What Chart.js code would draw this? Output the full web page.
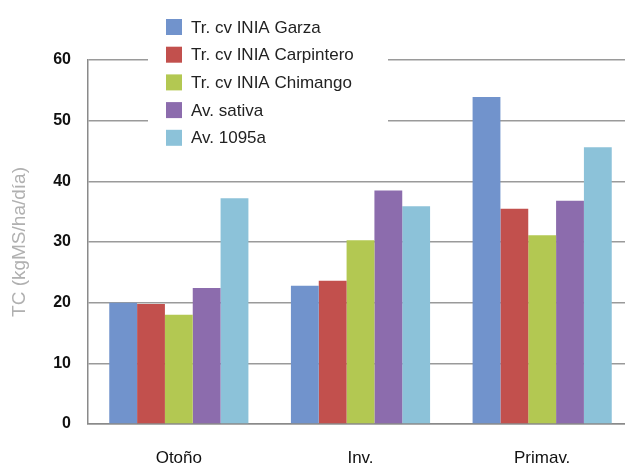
<!DOCTYPE html>
<html>
<head>
<meta charset="utf-8">
<script src="https://cdn.jsdelivr.net/npm/chart.js@4.4.1/dist/chart.umd.min.js"></script>
<style>
  html, body { margin: 0; padding: 0; background: #fff; overflow: hidden; }
  #wrap { position: absolute; left: 0; top: 0; width: 640px; height: 467px; }
</style>
</head>
<body>
<div id="wrap"><canvas id="chart"></canvas></div>
<script>
// Datos
const estaciones = ["Otoño", "Inv.", "Primav."];
const seriesNombres = ["Tr. cv INIA Garza", "Tr. cv INIA Carpintero", "Tr. cv INIA Chimango", "Av. sativa", "Av. 1095a"];
const garza = [20.0, 22.8, 53.9];
const carpintero = [19.8, 23.6, 35.5];
const chimango = [18.0, 30.3, 31.1];
const sativa = [22.4, 38.5, 36.8];
const av1095a = [37.2, 35.9, 45.6];
const yTicks = [0, 10, 20, 30, 40, 50, 60];

const colores = ["#7193cc", "#c2504d", "#b3c852", "#8c6cad", "#8cc2d9"];
const valores = [garza, carpintero, chimango, sativa, av1095a];

// Leyenda dibujada dentro del área del gráfico
const leyendaPlugin = {
  id: "leyenda",
  afterDraw(chart) {
    const ctx = chart.ctx;
    ctx.save();
    ctx.fillStyle = "#fff";
    ctx.fillRect(148, 10, 240, 142);
    ctx.font = "17px 'Liberation Sans', Arial, sans-serif";
    ctx.textBaseline = "middle";
    chart.data.datasets.forEach((ds, i) => {
      const y = 27 + i * 27.7;
      ctx.fillStyle = ds.backgroundColor;
      ctx.fillRect(166, y - 8, 16, 16);
      ctx.fillStyle = "#222";
      ctx.fillText(ds.label, 191, y + 1);
    });
    ctx.restore();
  }
};

new Chart(document.getElementById("chart"), {
  type: "bar",
  data: {
    labels: estaciones,
    datasets: seriesNombres.map((nombre, i) => ({
      label: nombre,
      data: valores[i],
      backgroundColor: colores[i],
      borderWidth: 0,
      categoryPercentage: 0.766,
      barPercentage: 1.0
    }))
  },
  options: {
    responsive: true,
    maintainAspectRatio: false,
    animation: false,
    layout: { padding: { top: 60, right: 7, left: 0, bottom: 0 } },
    plugins: {
      legend: { display: false },
      tooltip: { enabled: false }
    },
    scales: {
      x: {
        grid: { display: false, drawTicks: false },
        border: { color: "#8a8a8a", width: 1.5 },
        ticks: {
          color: "#111",
          padding: 24,
          font: { family: "'Liberation Sans', Arial, sans-serif", size: 17 }
        },
        afterFit(axis) { axis.height = 43; }
      },
      y: {
        min: 0,
        max: 60,
        afterBuildTicks(axis) { axis.ticks = yTicks.map(v => ({ value: v })); },
        grid: { color: "#9a9a9a", lineWidth: 1.5, drawTicks: false },
        border: { color: "#8a8a8a", width: 1.5 },
        ticks: {
          color: "#111",
          padding: 17,
          font: { family: "'Liberation Sans', Arial, sans-serif", size: 16, weight: "bold" }
        },
        title: {
          display: true,
          text: "TC (kgMS/ha/día)",
          color: "#b0b0b0",
          padding: { top: 8, bottom: 10 },
          font: { family: "'Liberation Sans', Arial, sans-serif", size: 19 }
        },
        afterFit(axis) { axis.width = 88; }
      }
    }
  },
  plugins: [leyendaPlugin]
});
</script>
</body>
</html>
